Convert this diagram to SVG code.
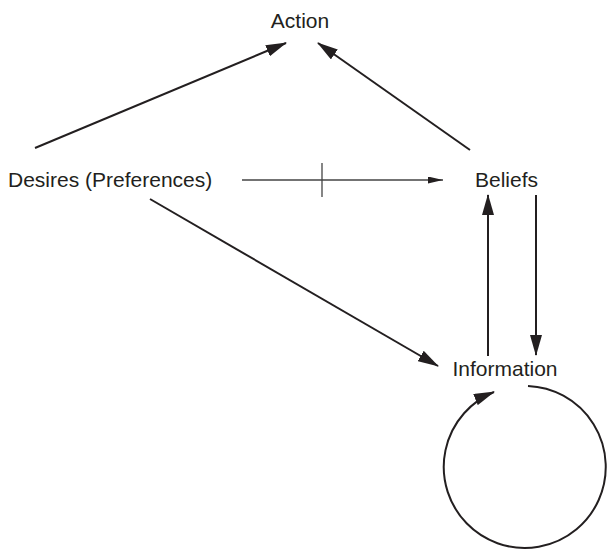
<svg xmlns="http://www.w3.org/2000/svg" width="608" height="549" viewBox="0 0 608 549">
<style>
text{font-family:"Liberation Sans",Arial,sans-serif;font-size:21px;fill:#231f20}
.c{fill:none;stroke:#231f20;stroke-width:2}
.t{fill:none;stroke:#444;stroke-width:1.3}
</style>
<defs>
<marker id="ah" markerUnits="userSpaceOnUse" markerWidth="21" markerHeight="12" refX="20" refY="6" orient="auto" viewBox="0 0 21 12">
<path d="M0,0 L21,6 L0,12 z" fill="#231f20"/>
</marker>
<marker id="as" markerUnits="userSpaceOnUse" markerWidth="15" markerHeight="7" refX="15" refY="3.5" orient="auto" viewBox="0 0 15 7">
<path d="M0,0 L15,3.5 L0,7 z" fill="#231f20"/>
</marker>
</defs>
<g id="action"><text x="300" y="28" text-anchor="middle">Action</text></g>
<g id="desires"><text x="8" y="187">Desires (Preferences)</text></g>
<g id="beliefs"><text x="475" y="187">Beliefs</text></g>
<g id="information"><text x="505" y="376" text-anchor="middle">Information</text></g>
<g id="connectors">
<line class="c" x1="35" y1="148" x2="286" y2="43" marker-end="url(#ah)"/>
<line class="c" x1="470" y1="150" x2="318" y2="43" marker-end="url(#ah)"/>
<line class="t" x1="242" y1="180" x2="443" y2="180" marker-end="url(#as)"/>
<line class="t" x1="322" y1="163" x2="322" y2="197"/>
<line class="c" x1="150" y1="199" x2="438" y2="366" marker-end="url(#ah)"/>
<line class="c" x1="488" y1="356" x2="488" y2="195" marker-end="url(#ah)"/>
<line class="c" x1="536" y1="195" x2="536" y2="355" marker-end="url(#ah)"/>
<path class="c" d="M528,386 A81,81 0 1 1 494,392" marker-end="url(#ah)"/>
</g>
</svg>
